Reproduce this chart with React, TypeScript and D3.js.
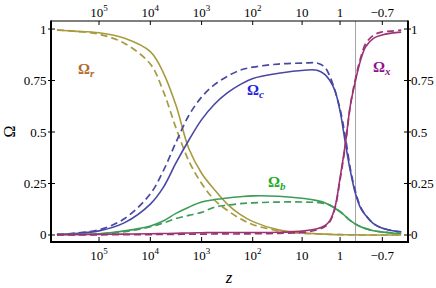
import React from "react";
import * as d3 from "d3";

// x positions as log10(1 + z), from high redshift down to the future
const logOnePlusZ = [5.82, 5.5, 5.0, 4.5, 4.0, 3.75, 3.5, 3.25, 3.0, 2.75, 2.5, 2.25, 2.0, 1.5, 1.0, 0.75, 0.6, 0.5, 0.4, 0.3, 0.2, 0.1, 0, -0.1, -0.2, -0.35, -0.5, -0.7, -0.89];

const omegaR = [0.995, 0.99, 0.982, 0.955, 0.89, 0.79, 0.63, 0.42, 0.3, 0.22, 0.15, 0.1, 0.065, 0.025, 0.01, 0.006, 0.004, 0.003, 0.002, 0.002, 0.001, 0.001, 0.001, 0, 0, 0, 0, 0, 0];
const omegaRDashed = [0.995, 0.99, 0.975, 0.93, 0.83, 0.7, 0.52, 0.36, 0.25, 0.17, 0.12, 0.08, 0.05, 0.02, 0.008, 0.005, 0.004, 0.003, 0.002, 0.002, 0.001, 0.001, 0.001, 0, 0, 0, 0, 0, 0];

const omegaC = [0.003, 0.007, 0.02, 0.06, 0.15, 0.23, 0.35, 0.46, 0.56, 0.635, 0.69, 0.73, 0.76, 0.785, 0.8, 0.8, 0.78, 0.75, 0.7, 0.6, 0.45, 0.31, 0.2, 0.13, 0.095, 0.055, 0.035, 0.022, 0.015];
const omegaCDashed = [0.003, 0.008, 0.025, 0.08, 0.2, 0.31, 0.45, 0.58, 0.67, 0.73, 0.77, 0.8, 0.815, 0.83, 0.835, 0.835, 0.815, 0.77, 0.7, 0.61, 0.48, 0.32, 0.21, 0.135, 0.095, 0.055, 0.035, 0.022, 0.015];

const omegaB = [0.001, 0.002, 0.006, 0.02, 0.044, 0.068, 0.105, 0.135, 0.16, 0.172, 0.18, 0.186, 0.19, 0.188, 0.177, 0.167, 0.157, 0.145, 0.13, 0.113, 0.092, 0.07, 0.053, 0.04, 0.031, 0.021, 0.015, 0.01, 0.008];
const omegaBDashed = [0.001, 0.002, 0.005, 0.016, 0.04, 0.058, 0.08, 0.095, 0.11, 0.135, 0.145, 0.152, 0.156, 0.16, 0.16, 0.158, 0.153, 0.145, 0.13, 0.113, 0.092, 0.07, 0.053, 0.04, 0.031, 0.021, 0.015, 0.01, 0.008];

const omegaX = [0.002, 0.003, 0.003, 0.004, 0.006, 0.007, 0.008, 0.01, 0.011, 0.012, 0.012, 0.012, 0.012, 0.013, 0.02, 0.03, 0.045, 0.07, 0.135, 0.28, 0.44, 0.63, 0.75, 0.85, 0.915, 0.955, 0.97, 0.98, 0.985];
const omegaXDashed = [0.001, 0.001, 0.001, 0.002, 0.002, 0.003, 0.003, 0.004, 0.004, 0.005, 0.005, 0.005, 0.006, 0.008, 0.013, 0.025, 0.04, 0.065, 0.13, 0.27, 0.43, 0.63, 0.76, 0.86, 0.93, 0.97, 0.985, 0.99, 0.995];

const zTicks = [1e5, 1e4, 1e3, 1e2, 10, 1, -0.7];
const zTickBase = ["10", "10", "10", "10", "10", "1", "\u22120.7"];
const zTickExp = ["5", "4", "3", "2", "", "", ""];
const omegaTicks = [0, 0.25, 0.5, 0.75, 1];
const omegaTickLabels = ["0", "0.25", "0.5", "0.75", "1"];

const W = 436;
const H = 288;
const frame = { left: 51, right: 408, top: 21, bottom: 242 };
const serif = "'Liberation Serif', 'DejaVu Serif', serif";

const series = [
  { name: "r", solid: omegaR, dashed: omegaRDashed, color: "#a89a40" },
  { name: "c", solid: omegaC, dashed: omegaCDashed, color: "#4848a4" },
  { name: "b", solid: omegaB, dashed: omegaBDashed, color: "#3c9c58" },
  { name: "x", solid: omegaX, dashed: omegaXDashed, color: "#9c3474" },
];

export default function App() {
  const x = d3.scaleLinear().domain([5.936, -1.023]).range([frame.left, frame.right]);
  const y = d3.scaleLinear().domain([-0.034, 1.039]).range([frame.bottom, frame.top]);

  const line = d3
    .line<number>()
    .x((_, i) => x(logOnePlusZ[i]))
    .y((d) => y(d))
    .curve(d3.curveCatmullRom.alpha(0.5));

  const tx = (z: number) => x(Math.log10(1 + z));

  return (
    <svg width={W} height={H} style={{ position: "absolute", left: 0, top: 0, background: "#fff" }}>
      {/* today, z = 0 */}
      <line x1={x(0)} x2={x(0)} y1={frame.top} y2={frame.bottom} stroke="#8a8a8a" strokeWidth={0.8} />

      {series.map((s) => (
        <g key={s.name}>
          <path d={line(s.dashed) || ""} fill="none" stroke={s.color} strokeWidth={1.7} strokeDasharray="7,4" />
          <path d={line(s.solid) || ""} fill="none" stroke={s.color} strokeWidth={1.6} />
        </g>
      ))}

      {/* frame */}
      <line x1={frame.left} x2={frame.right} y1={frame.top} y2={frame.top} stroke="#000" strokeWidth={1.2} />
      <line x1={frame.left} x2={frame.right} y1={frame.bottom} y2={frame.bottom} stroke="#000" strokeWidth={2} />
      <line x1={frame.left} x2={frame.left} y1={frame.top - 0.6} y2={frame.bottom + 1} stroke="#000" strokeWidth={2} />
      <line x1={frame.right} x2={frame.right} y1={frame.top - 0.6} y2={frame.bottom + 1} stroke="#000" strokeWidth={2} />

      {/* x ticks, top and bottom */}
      {zTicks.map((z, i) => (
        <g key={"zt" + i} fontFamily={serif} fontSize={13}>
          <line x1={tx(z)} x2={tx(z)} y1={frame.bottom} y2={frame.bottom - 5} stroke="#000" strokeWidth={1} />
          <line x1={tx(z)} x2={tx(z)} y1={frame.top} y2={frame.top + 4} stroke="#000" strokeWidth={1} />
          <text x={tx(z)} y={260} textAnchor="middle">
            {zTickBase[i]}
            {zTickExp[i] && (
              <tspan fontSize={9} dy={-6}>
                {zTickExp[i]}
              </tspan>
            )}
          </text>
          <text x={tx(z)} y={16.5} textAnchor="middle">
            {zTickBase[i]}
            {zTickExp[i] && (
              <tspan fontSize={9} dy={-6}>
                {zTickExp[i]}
              </tspan>
            )}
          </text>
        </g>
      ))}

      {/* y ticks, left and right */}
      {omegaTicks.map((v, i) => (
        <g key={"ot" + i} fontFamily={serif} fontSize={13}>
          <line x1={frame.left - 3} x2={frame.left + 4} y1={y(v)} y2={y(v)} stroke="#000" strokeWidth={1} />
          <line x1={frame.right - 4} x2={frame.right + 3} y1={y(v)} y2={y(v)} stroke="#000" strokeWidth={1} />
          <text x={46.5} y={y(v) + 4.5} textAnchor="end">
            {omegaTickLabels[i]}
          </text>
          <text x={411} y={y(v) + 4.5} textAnchor="start">
            {omegaTickLabels[i]}
          </text>
        </g>
      ))}

      {/* frame labels */}
      <text x={229} y={283} fontFamily={serif} fontSize={17} fontStyle="italic" textAnchor="middle">
        z
      </text>
      <text
        transform={`translate(15,${(frame.top + frame.bottom) / 2}) rotate(-90)`}
        fontFamily={serif}
        fontSize={16}
        textAnchor="middle"
      >
        Ω
      </text>

      {/* curve labels */}
      <g fontFamily={serif} fontWeight="bold" fontSize={15}>
        <text x={x(5.41)} y={y(0.78)} fill="#b0692c">
          Ω<tspan fontSize={11} fontStyle="italic" dy={3}>r</tspan>
        </text>
        <text x={x(2.115)} y={y(0.68)} fill="#2222dd">
          Ω<tspan fontSize={11} fontStyle="italic" dy={3}>c</tspan>
        </text>
        <text x={x(1.705)} y={y(0.233)} fill="#22aa22">
          Ω<tspan fontSize={11} fontStyle="italic" dy={3}>b</tspan>
        </text>
        <text x={x(-0.341)} y={y(0.79)} fill="#8e148e">
          Ω<tspan fontSize={11} fontStyle="italic" dy={3}>x</tspan>
        </text>
      </g>
    </svg>
  );
}
